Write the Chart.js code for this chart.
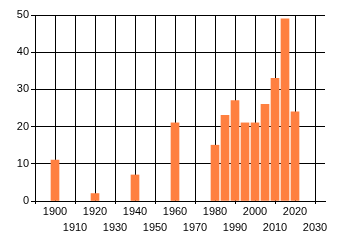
<!DOCTYPE html>
<html lang="en">

<head>
    <meta charset="UTF-8">
    <title>Chart</title>
    <style>
        body { margin: 0; background: #fff; }
    </style>
</head>

<body>
    <script src="https://cdn.jsdelivr.net/npm/chart.js"></script>

    <canvas id="chart" width="340" height="245"></canvas>

    <script>
        // data
        const years = [1900, 1920, 1940, 1960, 1980, 1985, 1990, 1995, 2000, 2005, 2010, 2015, 2020]
        const counts = [11, 2, 7, 21, 15, 23, 27, 21, 21, 26, 33, 49, 24]

        // tick values
        const xTicks = [1890, 1900, 1910, 1920, 1930, 1940, 1950, 1960, 1970, 1980, 1990, 2000, 2010, 2020, 2030]
        const yTicks = [0, 10, 20, 30, 40, 50]

        const font = { family: '"Liberation Sans", Arial, sans-serif', size: 11, lineHeight: '16px' }

        // labels alternate between two rows, the second row gets the tick marks
        const isLowRow = v => ((v - xTicks[0]) / 10) % 2 === 0

        const ctx = document.getElementById('chart').getContext('2d')

        new Chart(ctx, {
            type: 'bar',
            data: {
                datasets: [
                    {
                        data: years.map((y, i) => ({ x: y, y: counts[i] })),
                        backgroundColor: '#ff8040',
                        barThickness: 8
                    }
                ]
            },
            options: {
                responsive: false,
                animation: false,
                layout: { padding: { top: 15, right: 15, left: 0, bottom: 0 } },
                plugins: {
                    legend: { display: false },
                    tooltip: { enabled: false }
                },
                scales: {
                    x: {
                        type: 'linear',
                        min: 1890,
                        max: 2035,
                        offset: false,
                        afterBuildTicks: scale => { scale.ticks = xTicks.map(v => ({ value: v })) },
                        afterFit: scale => { scale.height = 44 },
                        border: { color: '#000' },
                        grid: {
                            color: '#000',
                            offset: false,
                            tickLength: 3,
                            tickColor: c => isLowRow(c.tick.value) ? '#000' : 'rgba(0,0,0,0)'
                        },
                        ticks: {
                            color: '#000',
                            font: font,
                            padding: 0,
                            maxRotation: 0,
                            autoSkip: false,
                            callback: v => {
                                if (v === xTicks[0]) return ''
                                return isLowRow(v) ? ['', String(v)] : String(v)
                            }
                        }
                    },
                    y: {
                        min: 0,
                        max: 50,
                        afterBuildTicks: scale => { scale.ticks = yTicks.map(v => ({ value: v })) },
                        afterFit: scale => { scale.width = 35 },
                        border: { color: '#000' },
                        grid: { color: '#000', tickLength: 4, tickColor: '#000' },
                        ticks: {
                            color: '#000',
                            font: { family: font.family, size: 11 },
                            padding: 2
                        }
                    }
                }
            }
        })
    </script>

</body>

</html>
